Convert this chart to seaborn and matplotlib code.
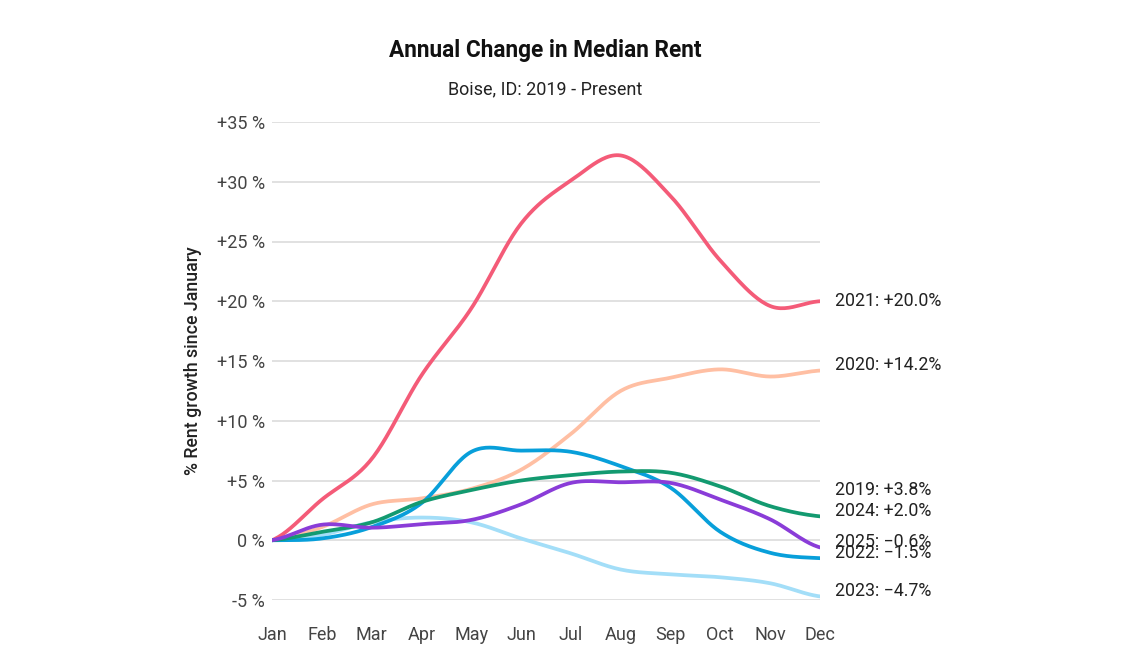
import numpy as np
import pandas as pd
import seaborn as sns
import matplotlib.pyplot as plt

months = ['Jan', 'Feb', 'Mar', 'Apr', 'May', 'Jun', 'Jul', 'Aug', 'Sep', 'Oct', 'Nov', 'Dec']

rent_2020 = [0, 1.1, 3.0, 3.5, 4.3, 5.9, 8.9, 12.5, 13.6, 14.3, 13.7, 14.2]
rent_2021 = [0, 3.4, 6.8, 13.8, 19.4, 26.5, 30.1, 32.2, 28.8, 23.4, 19.6, 20.0]
rent_2022 = [0, 0.15, 1.1, 3.1, 7.4, 7.5, 7.4, 6.2, 4.4, 0.7, -1.05, -1.5]
rent_2023 = [0, 0.45, 1.5, 1.9, 1.5, 0.15, -1.1, -2.45, -2.85, -3.1, -3.6, -4.7]
rent_2024 = [0, 0.7, 1.5, 3.2, 4.2, 5.0, 5.45, 5.75, 5.65, 4.5, 2.85, 2.0]
rent_2025 = [0, 1.3, 1.05, 1.35, 1.7, 3.0, 4.8, 4.85, 4.8, 3.4, 1.75, -0.6]

# end-of-year labels (2019 has a label but no drawn line)
label_years = ['2021', '2020', '2019', '2024', '2025', '2022', '2023']
label_values = [20.0, 14.2, 3.8, 2.0, -0.6, -1.5, -4.7]

series = {
    '2020': rent_2020,
    '2021': rent_2021,
    '2023': rent_2023,
    '2022': rent_2022,
    '2024': rent_2024,
    '2025': rent_2025,
}
colors = {
    '2020': '#ffbfa3',
    '2021': '#f45b78',
    '2022': '#089fda',
    '2023': '#a3def8',
    '2024': '#139a70',
    '2025': '#8a3cd8',
}
# vertical nudge of the end labels, in points
nudge = {'2021': 0.5}


def smooth(ys, n=24, tension=0.5):
    # cardinal spline through the monthly points, like the chart's curved lines
    ys = np.asarray(ys, dtype=float)
    xs = np.arange(len(ys), dtype=float)
    out_x, out_y = [], []
    last = len(ys) - 1
    for i in range(last):
        p0 = ys[max(i - 1, 0)]
        p1 = ys[i]
        p2 = ys[i + 1]
        p3 = ys[min(i + 2, last)]
        m1 = tension * (p2 - p0) if i > 0 else tension * (p2 - p1)
        m2 = tension * (p3 - p1) if i < last - 1 else tension * (p2 - p1)
        t = np.linspace(0, 1, n, endpoint=False)
        h00 = 2 * t**3 - 3 * t**2 + 1
        h10 = t**3 - 2 * t**2 + t
        h01 = -2 * t**3 + 3 * t**2
        h11 = t**3 - t**2
        out_x.extend(xs[i] + t)
        out_y.extend(h00 * p1 + h10 * m1 + h01 * p2 + h11 * m2)
    out_x.append(xs[-1])
    out_y.append(ys[-1])
    return np.array(out_x), np.array(out_y)


frames = []
for year, vals in series.items():
    sx, sy = smooth(vals)
    frames.append(pd.DataFrame({'x': sx, 'y': sy, 'year': year}))
df = pd.concat(frames, ignore_index=True)

sns.set_theme(style='white')
plt.rcParams['font.family'] = ['Roboto', 'DejaVu Sans']

fig = plt.figure(figsize=(11.4, 6.56), dpi=100)
ax = fig.add_axes([272 / 1140, 56 / 656, 548 / 1140, 478 / 656])

for y in range(-5, 36, 5):
    ax.axhline(y, color='#dcdcdc', lw=1.2, zorder=0)

sns.lineplot(data=df, x='x', y='y', hue='year', palette=colors, hue_order=list(series.keys()),
             lw=2.7, sort=False, estimator=None, legend=False, ax=ax)

ax.set_xlim(0, 11)
ax.set_ylim(-5, 35)
ax.set_xticks(range(12))
ax.set_xticklabels(months)
yt = list(range(-5, 36, 5))
ax.set_yticks(yt)
ax.set_yticklabels([('+%d %%' % v) if v > 0 else ('%d %%' % v) for v in yt])
ax.tick_params(axis='x', length=0, pad=19, labelsize=13, labelcolor='#444444')
ax.tick_params(axis='y', length=0, pad=5, labelsize=13, labelcolor='#444444')
for s in ax.spines.values():
    s.set_visible(False)
ax.set_xlabel('')
ax.set_ylabel('% Rent growth since January', fontsize=12.8, color='#222222', fontweight='medium')
ax.yaxis.set_label_coords(-0.127, 0.5)

for yr, v in zip(label_years, label_values):
    txt = '%s: %s%.1f%%' % (yr, '+' if v >= 0 else '\u2212', abs(v))
    ax.annotate(txt, xy=(11, v), xytext=(11, nudge.get(yr, 3.8)), textcoords='offset points',
                va='center', ha='left', fontsize=12.8, color='#222222', annotation_clip=False)

fig.text(545 / 1140, 1 - 50 / 656, 'Annual Change in Median Rent', ha='center', va='center',
         fontsize=16.3, fontweight='bold', color='#111111')
fig.text(545 / 1140, 1 - 89 / 656, 'Boise, ID: 2019 - Present', ha='center', va='center',
         fontsize=13, color='#222222')

fig.savefig('out.png', dpi=100, facecolor='white')
